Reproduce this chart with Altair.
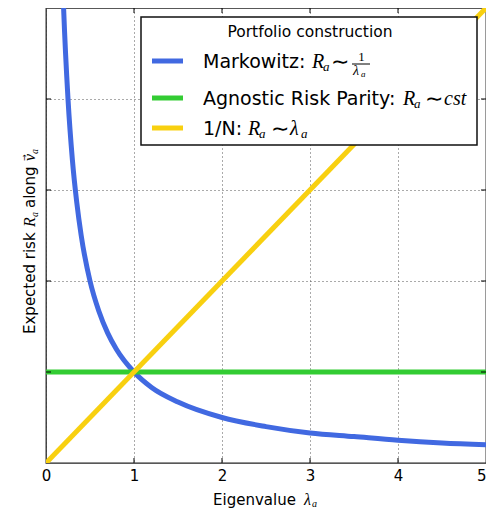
import altair as alt
import pandas as pd

# ---- data ----
mk_x = [0.18, 0.2, 0.25, 0.3, 0.35, 0.4, 0.5, 0.6, 0.7, 0.8, 1.0, 1.2, 1.5, 2.0, 2.5, 3.0, 3.5, 4.0, 4.5, 5.0]
mk_y = [5.56, 5.0, 4.0, 3.33, 2.86, 2.5, 2.0, 1.67, 1.43, 1.25, 1.0, 0.83, 0.67, 0.5, 0.4, 0.33, 0.29, 0.25, 0.22, 0.2]
arp_x = [0, 5]
arp_y = [1, 1]
eq_x = [0, 5]
eq_y = [0, 5]

series = ["Markowitz:", "Agnostic Risk Parity:", "1/N:"]
colors = ["#4169E1", "#33CC33", "#F8D010"]
x_ticks = [0, 1, 2, 3, 4, 5]
y_ticks = [1, 2, 3, 4]
inner_ticks = [1, 2, 3, 4]

W, H = 440, 455
SANS = "DejaVu Sans"
MATH = "Liberation Serif"

xscale = alt.Scale(domain=[0, 5], nice=False, zero=False)
yscale = alt.Scale(domain=[0, 5], nice=False, zero=False)
xaxis = alt.Axis(values=x_ticks, title="", format="d",
                 labelFontSize=15, labelFont=SANS, labelColor="black",
                 labelAlign={"condition": {"test": "datum.value == 5", "value": "right"}, "value": "center"},
                 ticks=False, domain=False, grid=True, gridDash=[1, 3], gridColor="#555",
                 gridWidth=1, labelPadding=5, labelFlush=False)
yaxis = alt.Axis(values=y_ticks, title="", labels=False, ticks=False, domain=False,
                 grid=True, gridDash=[1, 3], gridColor="#555", gridWidth=1)


def X(f):
    return alt.X(f, type="quantitative", scale=xscale, axis=xaxis)


def Y(f):
    return alt.Y(f, type="quantitative", scale=yscale, axis=yaxis)


ONE = pd.DataFrame({"a": [0]})


def txt(s, x, y, size, font=SANS, style="normal", align="left", baseline="alphabetic", angle=0):
    return alt.Chart(ONE).mark_text(text=s, font=font, fontSize=size, fontStyle=style, align=align,
                                    baseline=baseline, angle=angle, color="black").encode(
        x=alt.value(x), y=alt.value(y))


layers = []
for xs, ys, c in [(mk_x, mk_y, colors[0]), (arp_x, arp_y, colors[1]), (eq_x, eq_y, colors[2])]:
    df = pd.DataFrame({"x": xs, "y": ys})
    layers.append(
        alt.Chart(df).mark_line(color=c, strokeWidth=5, clip=True, interpolate="monotone")
        .encode(x=X("x"), y=Y("y"))
    )

# inward ticks on all four sides
tdf = pd.DataFrame({"t": inner_ticks})
layers.append(alt.Chart(tdf).mark_rule(color="black", strokeWidth=1)
              .encode(x=X("t"), y=alt.value(H), y2=alt.value(H - 5)))
layers.append(alt.Chart(tdf).mark_rule(color="black", strokeWidth=1)
              .encode(x=X("t"), y=alt.value(0), y2=alt.value(5)))
layers.append(alt.Chart(tdf).mark_rule(color="black", strokeWidth=1)
              .encode(y=Y("t"), x=alt.value(0), x2=alt.value(5)))
layers.append(alt.Chart(tdf).mark_rule(color="black", strokeWidth=1)
              .encode(y=Y("t"), x=alt.value(W), x2=alt.value(W - 5)))

# legend box
layers.append(alt.Chart(ONE).mark_rect(fill="white", stroke="#111", strokeWidth=1.5)
              .encode(x=alt.value(95), x2=alt.value(431), y=alt.value(9), y2=alt.value(137)))
layers.append(txt("Portfolio construction", 264, 29, 15.5, align="center"))

sym_y = [53, 90, 120]
base_y = [60, 97, 127]
for i in range(3):
    layers.append(alt.Chart(ONE).mark_rule(color=colors[i], strokeWidth=5)
                  .encode(x=alt.value(106), x2=alt.value(137), y=alt.value(sym_y[i])))
    layers.append(txt(series[i], 157, base_y[i], 19))

# Markowitz: R_a ~ 1/lambda_a
layers += [
    txt("R", 266, 60, 20, MATH, "italic"),
    txt("a", 277, 63, 13, MATH, "italic"),
    txt("∼", 285, 54, 22, SANS, baseline="middle"),
    txt("1", 315.5, 53, 13, MATH, align="center"),
    alt.Chart(ONE).mark_rule(color="black", strokeWidth=1)
    .encode(x=alt.value(306), x2=alt.value(324), y=alt.value(56)),
    txt("λ", 307, 67, 14, MATH, "italic"),
    txt("a", 315, 69, 9, MATH, "italic"),
]
# Agnostic Risk Parity: R_a ~ cst
layers += [
    txt("R", 357, 97, 20, MATH, "italic"),
    txt("a", 368, 100, 13, MATH, "italic"),
    txt("∼", 379, 91, 22, SANS, baseline="middle"),
    txt("cst", 398, 97, 20, MATH, "italic"),
]
# 1/N: R_a ~ lambda_a
layers += [
    txt("R", 202, 127, 20, MATH, "italic"),
    txt("a", 213, 130, 13, MATH, "italic"),
    txt("∼", 225, 121, 22, SANS, baseline="middle"),
    txt("λ", 244, 127, 20, MATH, "italic"),
    txt("a", 255, 130, 13, MATH, "italic"),
]

# x axis title: Eigenvalue lambda_a
layers += [
    txt("Eigenvalue", 167, 497, 15),
    txt("λ", 258, 497, 16, MATH, "italic"),
    txt("a", 266, 499, 10, MATH, "italic"),
]
# y axis title: Expected risk R_a along v_a (rotated)
layers += [
    txt("Expected risk", -11, 326, 15, angle=270),
    txt("R", -11, 219, 16, MATH, "italic", angle=270),
    txt("a", -8, 209, 10, MATH, "italic", angle=270),
    txt("along", -11, 200, 15, angle=270),
    txt("v", -11, 153, 16, MATH, "italic", angle=270),
    txt("a", -8, 146, 10, MATH, "italic", angle=270),
    txt("→", -21, 149.5, 8, SANS, align="center", baseline="middle", angle=270),
]

chart = alt.layer(*layers).properties(
    width=W, height=H,
    autosize=alt.AutoSizeParams(type="none"),
    padding={"left": 38, "top": 0, "right": 0, "bottom": 48},
    background="white",
).configure_view(stroke="#222", strokeWidth=1.3)

chart.save("out.html", embed_options={"renderer": "svg", "actions": False})
